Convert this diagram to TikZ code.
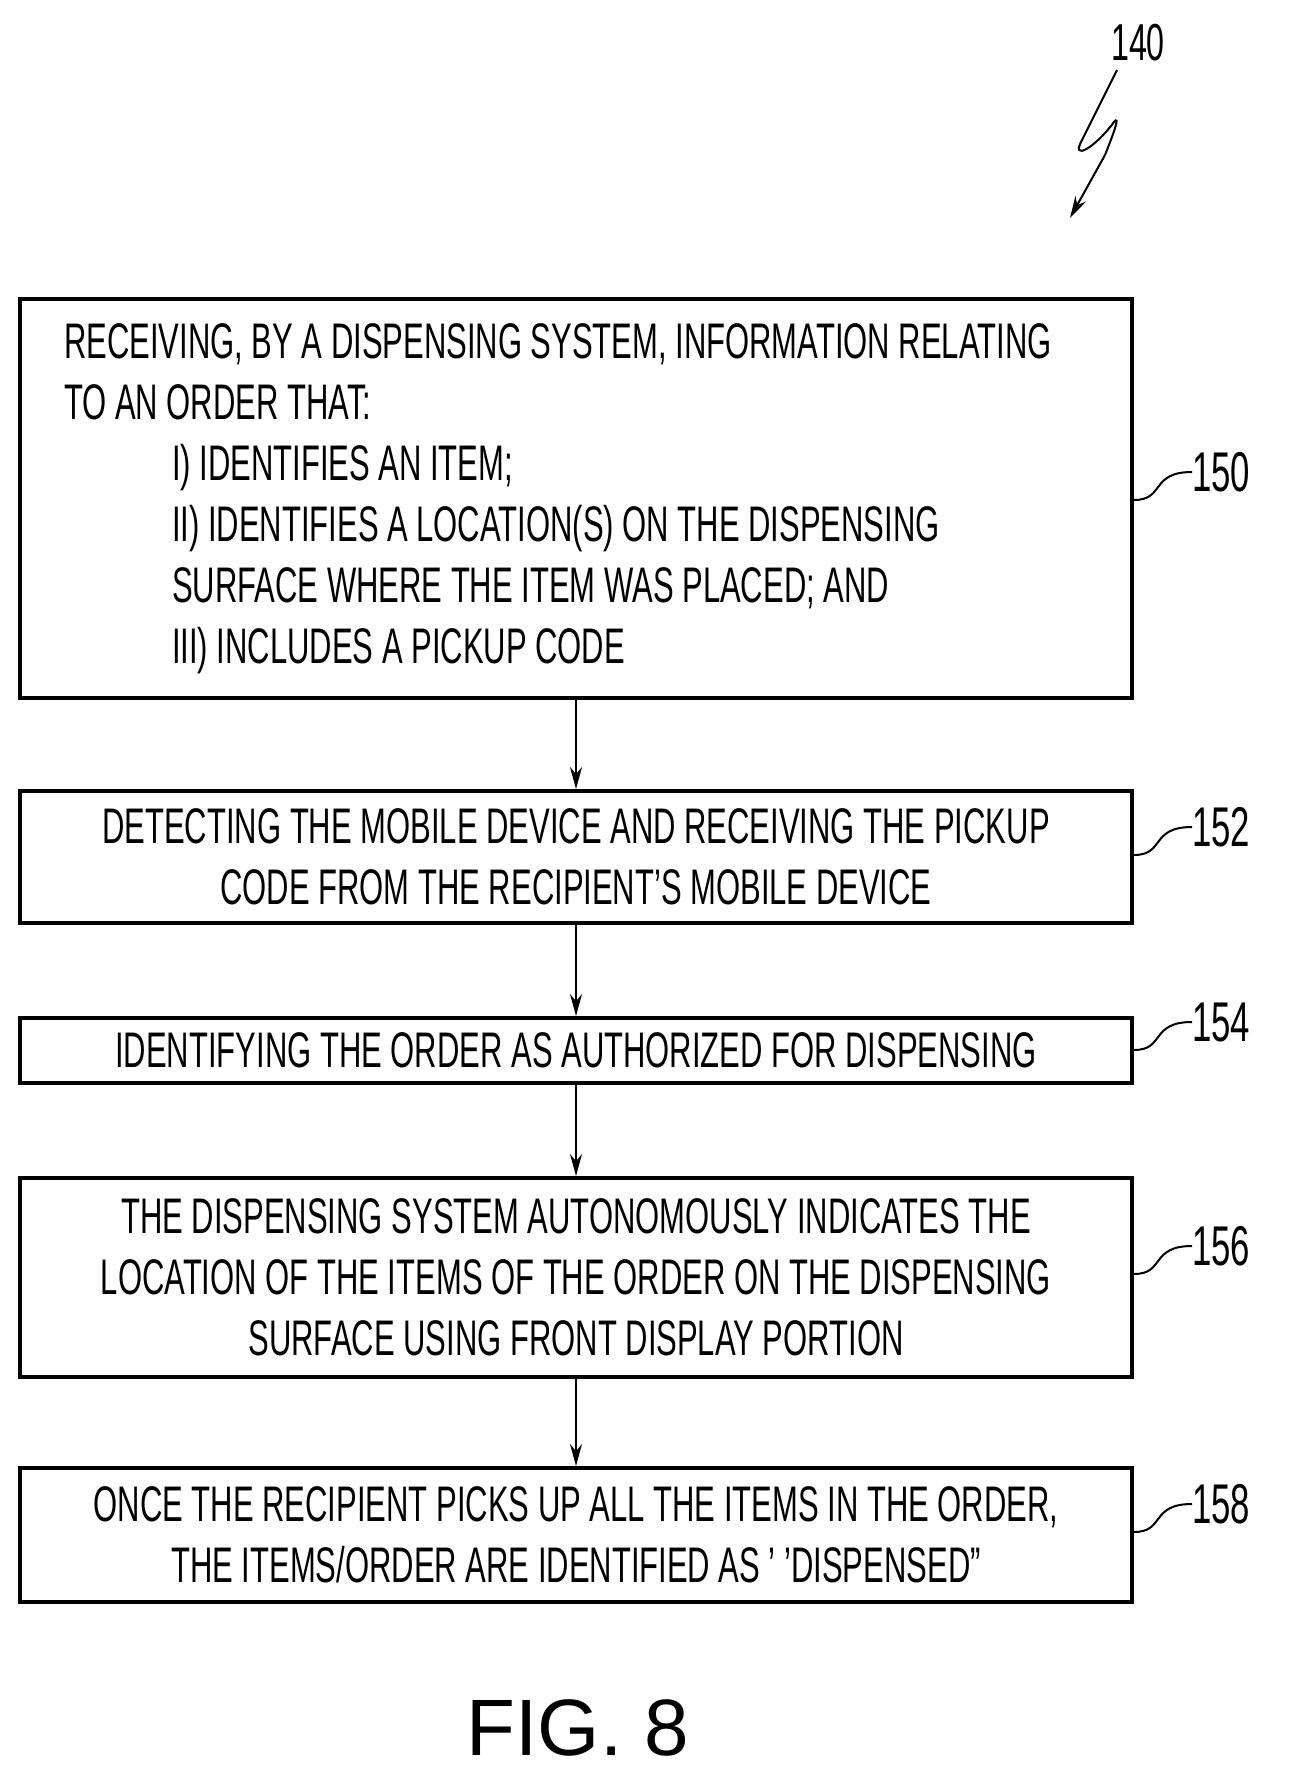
\documentclass[tikz,border=0pt]{standalone}
\usepackage{fontspec}
\setmainfont{Liberation Sans}[FakeStretch=0.62]
\newfontfamily\figfont{Liberation Sans}
\usetikzlibrary{arrows.meta}
\begin{document}
\begin{tikzpicture}[x=1pt,y=-1pt,
  box/.style={draw,line width=4pt,minimum width=1112pt,align=center,inner sep=0pt,
    font=\fontsize{50}{61}\selectfont},
  arr/.style={line width=2pt,-{Stealth[length=22pt,width=12pt]}},
  lab/.style={font=\fontsize{56}{58}\selectfont,anchor=west,inner sep=0pt}]
\useasboundingbox (0,0) rectangle (1297,1777);
\node[box,minimum height=399pt,text width=1024pt,align=flush left] (b1) at (576,498.5)
 {RECEIVING, BY A DISPENSING SYSTEM, INFORMATION RELATING\\
  TO AN ORDER THAT:\\
  \hspace*{108pt}I) IDENTIFIES AN ITEM;\\
  \hspace*{108pt}II) IDENTIFIES A LOCATION(S) ON THE DISPENSING\\
  \hspace*{108pt}SURFACE WHERE THE ITEM WAS PLACED; AND\\
  \hspace*{108pt}III) INCLUDES A PICKUP CODE};
\node[box,minimum height=132pt] (b2) at (576,857) {DETECTING THE MOBILE DEVICE AND RECEIVING THE PICKUP\\CODE FROM THE RECIPIENT'S MOBILE DEVICE};
\node[box,minimum height=65pt] (b3) at (576,1050.5) {IDENTIFYING THE ORDER AS AUTHORIZED FOR DISPENSING};
\node[box,minimum height=199pt] (b4) at (576,1277.5) {THE DISPENSING SYSTEM AUTONOMOUSLY INDICATES THE\\LOCATION OF THE ITEMS OF THE ORDER ON THE DISPENSING\\SURFACE USING FRONT DISPLAY PORTION};
\node[box,minimum height=134pt] (b5) at (576,1535) {ONCE THE RECIPIENT PICKS UP ALL THE ITEMS IN THE ORDER,\\THE ITEMS/ORDER ARE IDENTIFIED AS ' 'DISPENSED''};
\foreach \a/\b in {b1/b2,b2/b3,b3/b4,b4/b5} \draw[arr] (\a.south) -- (\b.north);
\foreach \n/\y in {150/472,152/827,154/1022,156/1246,158/1504}{
  \node[lab] (l\n) at (1192,\y) {\n};
  \draw[line width=2pt] (1134,\y+28) .. controls (1165,\y+28) and (1150,\y) .. (l\n.west);
}
\node[font=\fontsize{52}{54}\selectfont] (n140) at (1138,43) {140};
\coordinate (t140) at (1070,218);
\draw[line width=2pt] (1117,70) -- (1082,140) .. controls (1070,162) and (1095,148) .. (1114,122) .. controls (1120,115) and (1115,130) .. (1105,155);
\draw[arr] (1105,155) -- (t140);
\node[font=\figfont\fontsize{80}{84}\selectfont] (fig) at (578,1728) {FIG. 8};
\end{tikzpicture}
\end{document}
